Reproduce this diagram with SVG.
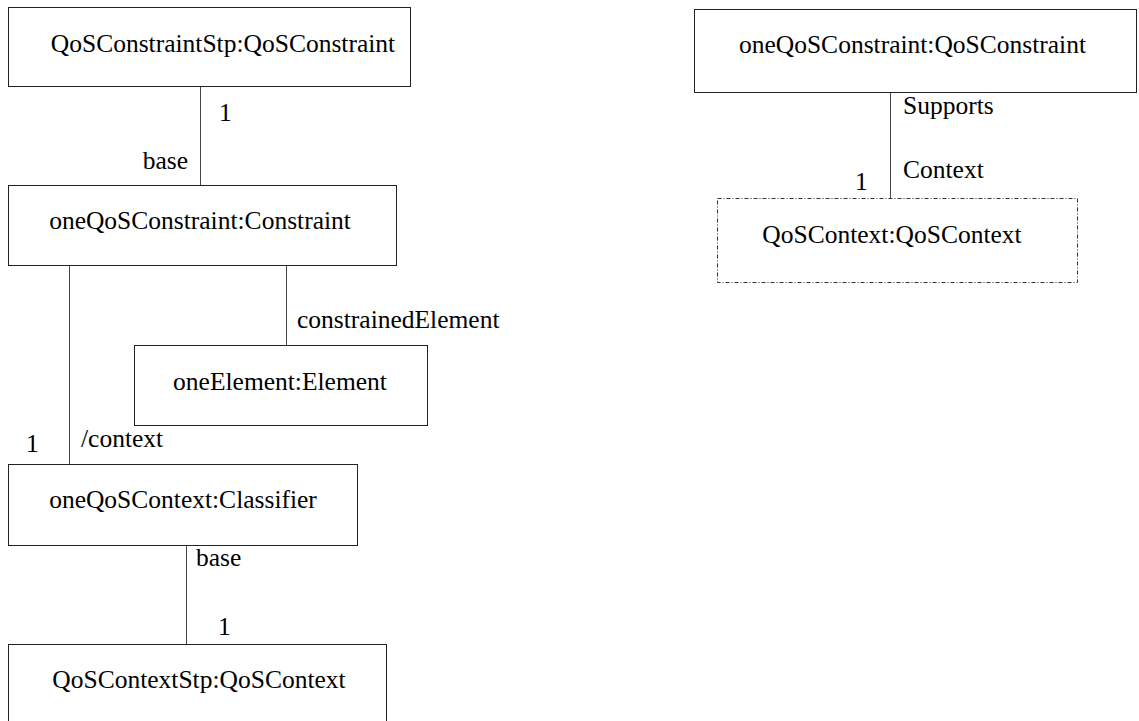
<svg xmlns="http://www.w3.org/2000/svg" width="1139" height="721" viewBox="0 0 1139 721">
<style>
.box{fill:#fff;stroke:#222;stroke-width:1}
.dash{fill:#fff;stroke:#333;stroke-width:1;stroke-dasharray:4 2 1 2}
text{font-family:'Liberation Serif','Times New Roman',serif;font-size:25.5px;fill:#000}
.name{text-anchor:middle}
.conn line{stroke:#444;stroke-width:1}
</style>
<rect width="1139" height="721" fill="#fff"/>
<g id="connectors" class="conn">
<line x1="200.5" y1="86" x2="200.5" y2="185"/>
<line x1="69.5" y1="266" x2="69.5" y2="464"/>
<line x1="286.5" y1="266" x2="286.5" y2="345"/>
<line x1="186.5" y1="545" x2="186.5" y2="644"/>
<line x1="890.5" y1="92" x2="890.5" y2="198"/>
</g>
<g id="labels">
<text x="219" y="121">1</text>
<text x="188" y="169" text-anchor="end">base</text>
<text x="297" y="328">constrainedElement</text>
<text x="26" y="452">1</text>
<text x="81" y="447">/context</text>
<text x="196" y="566">base</text>
<text x="218" y="635">1</text>
<text x="903" y="114">Supports</text>
<text x="903" y="178">Context</text>
<text x="855" y="190">1</text>
</g>
<g id="QoSConstraintStp">
<rect class="box" x="8.5" y="7.5" width="402" height="79"/>
<text class="name" x="223" y="52">QoSConstraintStp:QoSConstraint</text>
</g>
<g id="oneQoSConstraintConstraint">
<rect class="box" x="8.5" y="185.5" width="388" height="80"/>
<text class="name" x="200" y="229">oneQoSConstraint:Constraint</text>
</g>
<g id="oneElement">
<rect class="box" x="134.5" y="345.5" width="293" height="80"/>
<text class="name" x="280" y="390">oneElement:Element</text>
</g>
<g id="oneQoSContext">
<rect class="box" x="8.5" y="464.5" width="349" height="81"/>
<text class="name" x="183" y="508">oneQoSContext:Classifier</text>
</g>
<g id="QoSContextStp">
<rect class="box" x="8.5" y="644.5" width="378" height="90"/>
<text class="name" x="199" y="688">QoSContextStp:QoSContext</text>
</g>
<g id="oneQoSConstraintQoS">
<rect class="box" x="694.5" y="9.5" width="442" height="83"/>
<text class="name" x="912.5" y="53">oneQoSConstraint:QoSConstraint</text>
</g>
<g id="QoSContext">
<rect class="dash" x="717.5" y="198.5" width="360" height="84"/>
<text class="name" x="892" y="243">QoSContext:QoSContext</text>
</g>
</svg>
